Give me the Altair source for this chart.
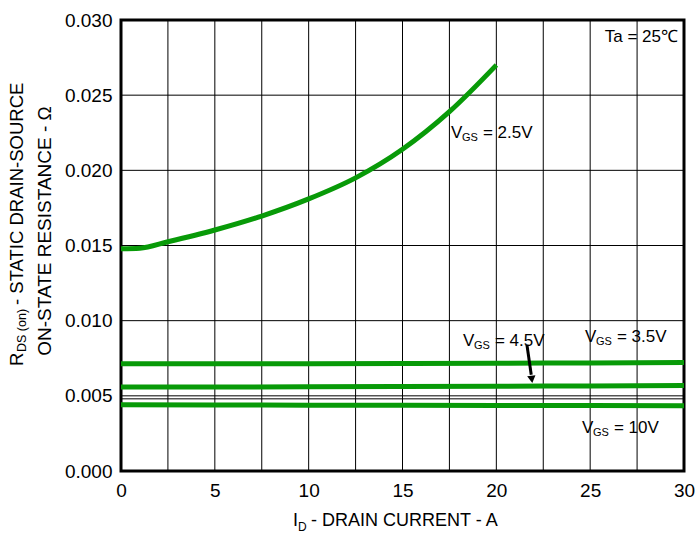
import altair as alt
import pandas as pd

FONT = "Liberation Sans"
GREEN = "#089A08"

# ---- data ----
id_25 = [0, 1, 2.5, 5, 7.5, 10, 12.5, 15, 17.5, 20]
r_25 = [0.01478, 0.01482, 0.01525, 0.01603, 0.01696, 0.0181, 0.0195, 0.0214, 0.0239, 0.0270]

id_flat = [0, 5, 10, 15, 20, 25, 30]
r_35 = [0.00713, 0.00713, 0.00714, 0.00715, 0.00717, 0.00719, 0.00721]
r_45 = [0.00558, 0.00559, 0.00560, 0.00562, 0.00564, 0.00566, 0.00568]
r_10 = [0.00440, 0.00439, 0.00438, 0.00437, 0.00436, 0.00435, 0.00434]

x_grid = [2.5, 5, 7.5, 10, 12.5, 15, 17.5, 20, 22.5, 25, 27.5]
x_ticks = [0, 5, 10, 15, 20, 25, 30]
y_ticks = [0.0, 0.005, 0.010, 0.015, 0.020, 0.025, 0.030]
y_extra = [0.0048]

label_x = [17.58, 18.22, 24.72, 24.56]
label_y = [0.02248, 0.00865, 0.00890, 0.00285]
label_rest = ["= 2.5V", "= 4.5V", "= 3.5V", "= 10V"]

arrow_x = [21.63, 21.86]
arrow_y = [0.00840, 0.00640]
arrow_tip_x = [21.89]
arrow_tip_y = [0.00610]

rows = []
for xv, yv in zip(id_25, r_25):
    rows.append({"id": xv, "r": yv, "s": "2.5V"})
for name, arr in [("3.5V", r_35), ("4.5V", r_45), ("10V", r_10)]:
    for xv, yv in zip(id_flat, arr):
        rows.append({"id": xv, "r": yv, "s": name})
curves = pd.DataFrame(rows)

W, H = 563, 451
xs = alt.Scale(domain=[0, 30], nice=False, zero=False)
ys = alt.Scale(domain=[0, 0.03], nice=False, zero=False)

xaxis = alt.Axis(values=x_ticks, grid=False, ticks=False, domain=False, title=None,
                 labelFont=FONT, labelFontSize=19, labelColor="black", labelPadding=10,
                 labelFlush=False, format="d")
yaxis = alt.Axis(values=y_ticks, grid=False, ticks=False, domain=False, title=None,
                 labelFont=FONT, labelFontSize=19, labelColor="black", labelPadding=9,
                 labelFlush=False, format=".3f")

vgrid = alt.Chart(pd.DataFrame({"g": x_grid})).mark_rule(color="black", strokeWidth=1).encode(
    x=alt.X("g:Q", scale=xs, axis=xaxis), y=alt.value(0), y2=alt.value(H))
hgrid = alt.Chart(pd.DataFrame({"g": y_ticks + y_extra})).mark_rule(color="black", strokeWidth=1).encode(
    y=alt.Y("g:Q", scale=ys, axis=yaxis), x=alt.value(0), x2=alt.value(W))

lines = alt.Chart(curves).mark_line(color=GREEN, strokeWidth=5, interpolate="monotone").encode(
    x=alt.X("id:Q", scale=xs), y=alt.Y("r:Q", scale=ys), detail="s:N")

lab = pd.DataFrame({"x": label_x, "y": label_y, "rest": label_rest})
base_lab = alt.Chart(lab).encode(x=alt.X("x:Q", scale=xs), y=alt.Y("y:Q", scale=ys))
t_v = base_lab.mark_text(font=FONT, fontSize=17, align="left", baseline="middle", color="black").encode(
    text=alt.value("V"))
t_gs = base_lab.mark_text(font=FONT, fontSize=11, align="left", baseline="middle", color="black",
                          dx=11, dy=5).encode(text=alt.value("GS"))
t_rest = base_lab.mark_text(font=FONT, fontSize=17, align="left", baseline="middle", color="black",
                            dx=32).encode(text="rest:N")

ta = alt.Chart(pd.DataFrame({"x": [29.68], "y": [0.0289], "t": ["Ta = 25℃"]})).mark_text(
    font=FONT, fontSize=17, align="right", baseline="middle", color="black").encode(
    x=alt.X("x:Q", scale=xs), y=alt.Y("y:Q", scale=ys), text="t:N")

arrow_line = alt.Chart(pd.DataFrame({"x": arrow_x, "y": arrow_y})).mark_line(
    color="black", strokeWidth=3).encode(x=alt.X("x:Q", scale=xs), y=alt.Y("y:Q", scale=ys))
arrow_head = alt.Chart(pd.DataFrame({"x": arrow_tip_x, "y": arrow_tip_y})).mark_point(
    shape="triangle-down", filled=True, color="black", size=70, opacity=1, angle=352).encode(
    x=alt.X("x:Q", scale=xs), y=alt.Y("y:Q", scale=ys))


def txt(px, py, s, size, align="left", angle=0):
    kw = dict(font=FONT, fontSize=size, align=align, baseline="middle", color="black")
    if angle:
        kw["angle"] = angle
    return alt.Chart(pd.DataFrame({"a": [0]})).mark_text(**kw).encode(
        x=alt.value(px - 121), y=alt.value(py - 20), text=alt.value(s))


# axis titles with subscripts
xt1 = txt(293, 521, "I", 18)
xt2 = txt(298, 527, "D", 12)
xt3 = txt(311, 521, "- DRAIN CURRENT - A", 18)

yt1 = txt(17, 366, "R", 18.5, angle=270)
yt2 = txt(22, 352, "DS (on)", 12.5, angle=270)
yt3 = txt(17, 305, "- STATIC DRAIN-SOURCE", 18.5, angle=270)
yt4 = txt(45, 231, "ON-STATE RESISTANCE - Ω", 19, align="center", angle=270)

chart = alt.layer(
    vgrid, hgrid, lines, t_v, t_gs, t_rest, ta, arrow_line, arrow_head,
    xt1, xt2, xt3, yt1, yt2, yt3, yt4
).properties(
    width=W, height=H,
    autosize=alt.AutoSizeParams(type="none"),
    padding={"left": 121, "top": 20, "right": 12, "bottom": 63},
    background="white",
).configure_view(stroke="black", strokeWidth=3)

chart.save("out.html", embed_options={"renderer": "svg", "actions": False})
